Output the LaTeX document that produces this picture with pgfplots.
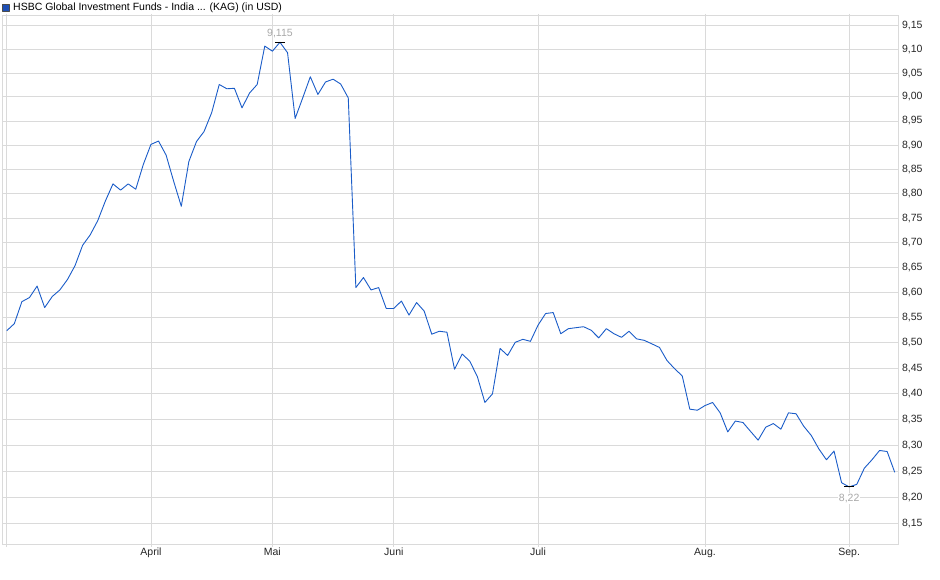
\documentclass[border=0pt]{standalone}
\usepackage{fontspec}
\setmainfont{Liberation Sans}
\usepackage{pgfplots}
\usepackage{pgfplotstable}
\pgfplotsset{compat=1.18}

\definecolor{lineblue}{HTML}{1A5CC8}
\definecolor{boxblue}{HTML}{1E4FB5}
\definecolor{gridgray}{HTML}{DADADA}
\definecolor{annogray}{HTML}{A8A8A8}

% trading day index, price (USD)
\pgfplotstableread{
i v
0 8.524
1 8.538
2 8.582
3 8.590
4 8.613
5 8.570
6 8.592
7 8.605
8 8.626
9 8.654
10 8.695
11 8.716
12 8.745
13 8.785
14 8.820
15 8.807
16 8.820
17 8.809
18 8.860
19 8.901
20 8.908
21 8.879
22 8.825
23 8.774
24 8.866
25 8.907
26 8.928
27 8.967
28 9.026
29 9.017
30 9.018
31 8.977
32 9.008
33 9.026
34 9.107
35 9.096
36 9.115
37 9.093
38 8.955
39 8.998
40 9.042
41 9.005
42 9.031
43 9.037
44 9.027
45 8.998
46 8.610
47 8.630
48 8.605
49 8.610
50 8.568
51 8.568
52 8.583
53 8.555
54 8.580
55 8.563
56 8.517
57 8.523
58 8.521
59 8.448
60 8.478
61 8.464
62 8.434
63 8.383
64 8.400
65 8.489
66 8.475
67 8.501
68 8.507
69 8.503
70 8.535
71 8.558
72 8.560
73 8.518
74 8.528
75 8.530
76 8.532
77 8.525
78 8.510
79 8.528
80 8.518
81 8.511
82 8.523
83 8.508
84 8.505
85 8.498
86 8.491
87 8.465
88 8.449
89 8.435
90 8.370
91 8.368
92 8.377
93 8.383
94 8.363
95 8.326
96 8.347
97 8.344
98 8.327
99 8.310
100 8.335
101 8.342
102 8.331
103 8.363
104 8.361
105 8.337
106 8.319
107 8.293
108 8.272
109 8.289
110 8.228
111 8.220
112 8.225
113 8.256
114 8.272
115 8.290
116 8.288
117 8.248
}\fundtable

\begin{document}
\fontsize{10.5}{12}\selectfont
\begin{tikzpicture}
\path[use as bounding box] (0,0) rectangle (940pt,579pt);
\begin{axis}[
    at={(2.7pt,34pt)}, anchor=south west,
    scale only axis, width=895.6pt, height=529pt,
    ymode=log,
    xmin=-0.53, xmax=117.47,
    ymin=8.110, ymax=9.171,
    axis line style={gridgray, line width=0.8pt},
    grid=major,
    major grid style={gridgray, line width=0.8pt},
    xtick={0,19,35,51,70,92,111},
    xticklabels={,April,Mai,Juni,Juli,Aug.,Sep.},
    ytick={8.15,8.2,8.25,8.3,8.35,8.4,8.45,8.5,8.55,8.6,8.65,8.7,8.75,8.8,8.85,8.9,8.95,9.0,9.05,9.1,9.15},
    yticklabels={{8,15},{8,20},{8,25},{8,30},{8,35},{8,40},{8,45},{8,50},{8,55},{8,60},{8,65},{8,70},{8,75},{8,80},{8,85},{8,90},{8,95},{9,00},{9,05},{9,10},{9,15}},
    yticklabel pos=right,
    tick align=outside,
    major tick length=2pt,
    xtick style={gridgray, line width=0.8pt},
    ytick style={draw=none},
    tick label style={font=\fontsize{10.5}{12}\selectfont, text=black!85},
    xticklabel style={inner sep=0pt, yshift=-1pt},
    yticklabel style={inner sep=0pt, xshift=1.5pt},
    legend style={at={(0,1)}, anchor=south west, draw=none, fill=none,
        inner sep=0pt, outer sep=0pt, yshift=3pt, xshift=-1pt,
        column sep=3pt,
        font=\fontsize{10.5}{12}\selectfont,
        nodes={inner sep=1pt}},
    legend cell align=left,
    legend image code/.code={\draw[draw=black!70, fill=boxblue, line width=0.5pt] (0pt,-3.5pt) rectangle (7pt,3.5pt);},
  ]
  \addplot[lineblue, line width=0.9pt, line join=round] table[x=i, y=v] {\fundtable};
  \addlegendentry{HSBC Global Investment Funds - India ... (KAG) (in USD)}
  \addplot[forget plot, only marks, mark=-, mark size=5pt,
      mark options={black, line width=0.9pt},
      nodes near coords, point meta=explicit symbolic,
      nodes near coords style={annogray, anchor=south, inner sep=1pt, yshift=3pt}]
      coordinates {(36,9.115) [{9,115}]};
  \addplot[forget plot, only marks, mark=-, mark size=5pt,
      mark options={black, line width=0.9pt},
      nodes near coords, point meta=explicit symbolic,
      nodes near coords style={annogray, fill=white, anchor=north, inner sep=1pt, yshift=-6pt}]
      coordinates {(111,8.22) [{8,22}]};
\end{axis}
\end{tikzpicture}
\end{document}
